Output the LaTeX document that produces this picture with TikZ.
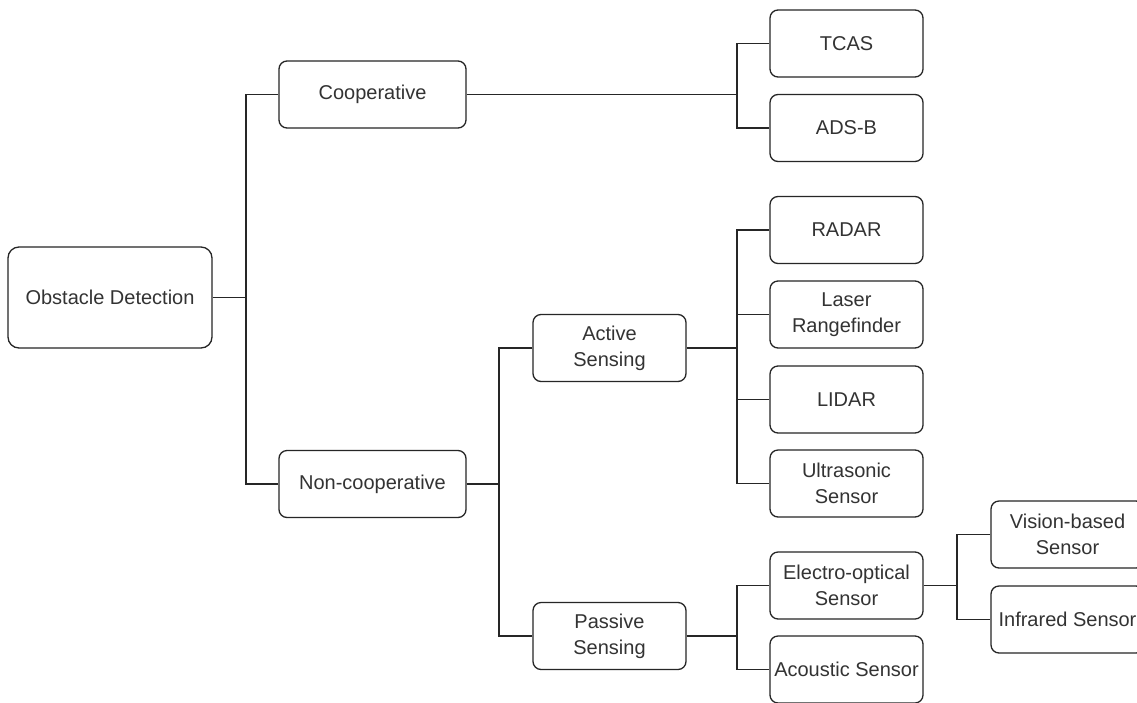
\documentclass[tikz,border=0pt]{standalone}
\usepackage{fontspec}
\setmainfont{Liberation Sans}
\begin{document}
\begin{tikzpicture}[x=1pt,y=-1pt,
  box/.style={draw=black!85, line width=1.3pt, rounded corners=8pt,
    minimum width=153pt, minimum height=67pt, inner sep=0pt,
    align=center, text=black!80,
    font=\fontsize{20}{26}\selectfont},
  widebox/.style={box, minimum width=187pt},
  rootbox/.style={box, minimum width=204pt, minimum height=101pt, rounded corners=11pt},
  link/.style={draw=black!85, line width=1.3pt}]
\clip (0,0) rectangle (1137,702);
\fill[white] (0,0) rectangle (1137,702);

% tree nodes
\node[rootbox] (od) at (110,297.5) {Obstacle Detection};
\node[widebox] (coop) at (372.5,94.5) {Cooperative};
\node[widebox] (ncoop) at (372.5,484) {Non-cooperative};
\node[box] (active) at (609.5,348) {Active\\Sensing};
\node[box] (passive) at (609.5,636) {Passive\\Sensing};
\node[box] (tcas) at (846.5,43.5) {TCAS};
\node[box] (adsb) at (846.5,128) {ADS-B};
\node[box] (radar) at (846.5,230) {RADAR};
\node[box] (laser) at (846.5,314.5) {Laser\\Rangefinder};
\node[box] (lidar) at (846.5,399.5) {LIDAR};
\node[box] (ultra) at (846.5,483.5) {Ultrasonic\\Sensor};
\node[box] (eo) at (846.5,585.5) {Electro-optical\\Sensor};
\node[box] (acoustic) at (846.5,669.5) {Acoustic Sensor};
\node[box] (vision) at (1067.5,534.5) {Vision-based\\Sensor};
\node[box] (ir) at (1067.5,619.5) {Infrared Sensor};

% bracket columns
\coordinate (b1) at (246,0);
\coordinate (b2) at (499,0);
\coordinate (b3) at (737,0);
\coordinate (b4) at (957,0);

% root split
\draw[link] (od.east) -- (od.east -| b1);
\draw[link] (coop.west) -- (coop.west -| b1) -- (ncoop.west -| b1) -- (ncoop.west);

% cooperative
\draw[link] (coop.east) -- (coop.east -| b3);
\draw[link] (tcas.west) -- (tcas.west -| b3) -- (adsb.west -| b3) -- (adsb.west);

% non-cooperative
\draw[link] (ncoop.east) -- (ncoop.east -| b2);
\draw[link] (active.west) -- (active.west -| b2) -- (passive.west -| b2) -- (passive.west);

% active sensing
\draw[link] (active.east) -- (active.east -| b3);
\draw[link] (radar.west) -- (radar.west -| b3) -- (ultra.west -| b3) -- (ultra.west);
\draw[link] (laser.west) -- (laser.west -| b3);
\draw[link] (lidar.west) -- (lidar.west -| b3);

% passive sensing
\draw[link] (passive.east) -- (passive.east -| b3);
\draw[link] (eo.west) -- (eo.west -| b3) -- (acoustic.west -| b3) -- (acoustic.west);

% electro-optical
\draw[link] (eo.east) -- (eo.east -| b4);
\draw[link] (vision.west) -- (vision.west -| b4) -- (ir.west -| b4) -- (ir.west);
\end{tikzpicture}
\end{document}
